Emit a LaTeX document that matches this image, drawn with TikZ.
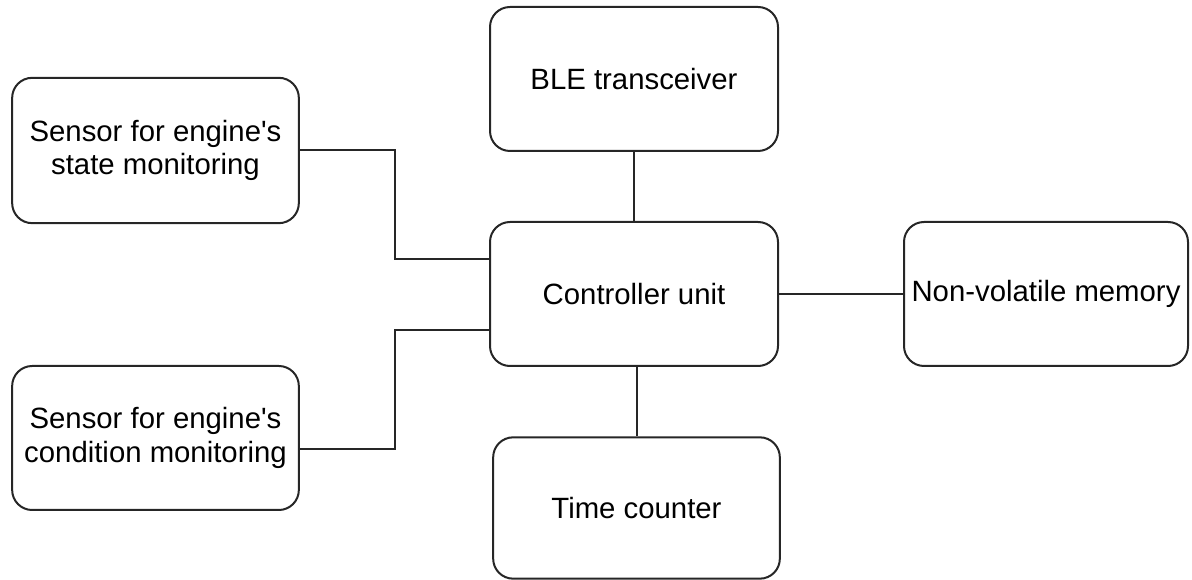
\documentclass[tikz,border=0pt]{standalone}
\usepackage{fontspec}
\newfontfamily\arialfont{Liberation Sans}
\begin{document}
\begin{tikzpicture}[x=0.75pt,y=-0.75pt,
  blk/.style={draw=black!85, line width=1.5pt, rounded corners=15pt, align=center,
    font=\arialfont\fontsize{22pt}{25pt}\selectfont, inner sep=0pt},
  link/.style={draw=black!85, line width=1.5pt}]
\useasboundingbox (0,0) rectangle (1192,580);
\node[blk, minimum width=215pt, minimum height=109pt] (state) at (155.5,150.5) {Sensor for engine's\\state monitoring};
\node[blk, minimum width=215pt, minimum height=108pt] (cond) at (155.5,438) {Sensor for engine's\\condition monitoring};
\node[blk, minimum width=216pt, minimum height=108pt] (ble) at (634,79) {BLE transceiver};
\node[blk, minimum width=216pt, minimum height=108pt] (ctrl) at (634,294) {Controller unit};
\node[blk, minimum width=215pt, minimum height=106pt] (time) at (636.5,508) {Time counter};
\node[blk, minimum width=213pt, minimum height=108pt] (nvm) at (1046,294) {Non-volatile memory};
\coordinate (s1) at (395,150);
\coordinate (c1) at (395,449);
\draw[link] (state.east |- s1) -- (s1) |- (ctrl.west |- 0,259);
\draw[link] (cond.east |- c1) -- (c1) |- (ctrl.west |- 0,330);
\draw[link] (ble.south) -- (ble.south |- ctrl.north);
\draw[link] (time.north |- ctrl.south) -- (time.north);
\draw[link] (ctrl.east) -- (nvm.west);
\end{tikzpicture}
\end{document}
